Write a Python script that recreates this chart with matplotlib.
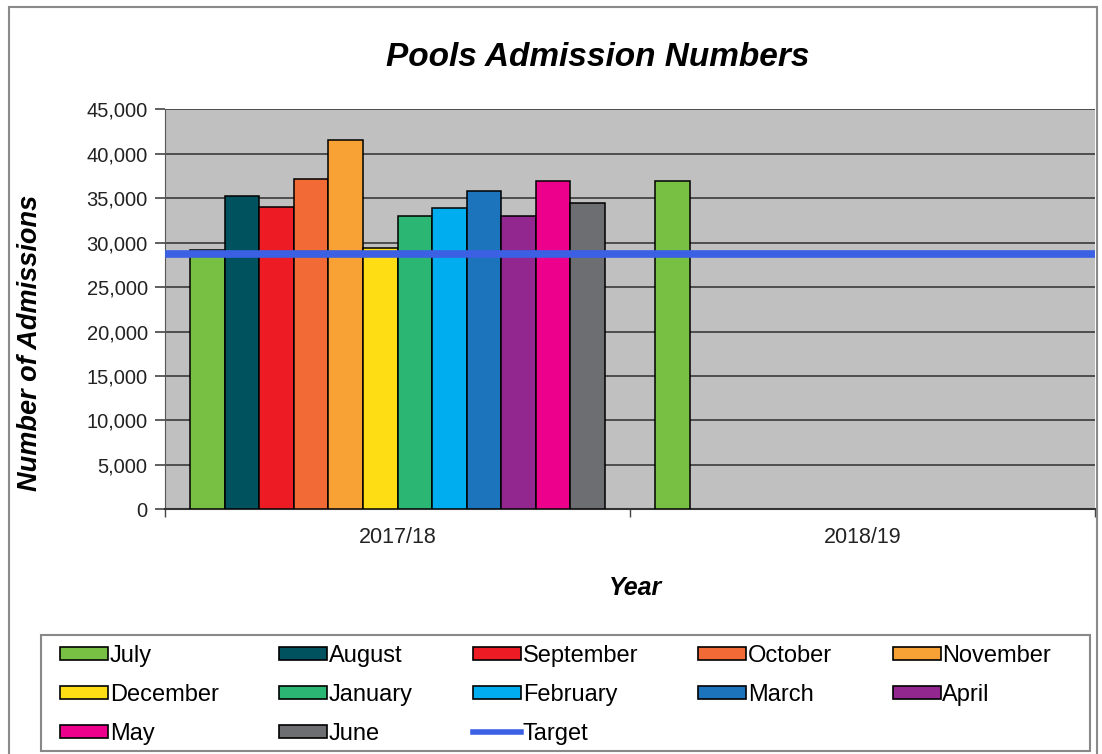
import numpy as np
import matplotlib
matplotlib.use("Agg")
import matplotlib.pyplot as plt
from matplotlib.patches import Patch, Rectangle
from matplotlib.lines import Line2D
from matplotlib.ticker import StrMethodFormatter, FixedLocator

plt.rcParams['font.family'] = ['Liberation Sans', 'DejaVu Sans']

years = ["2017/18", "2018/19"]
months = ["July", "August", "September", "October", "November", "December",
          "January", "February", "March", "April", "May", "June"]
admissions_1718 = [29200, 35300, 34000, 37200, 41500, 29400,
                   33000, 33900, 35800, 33000, 36900, 34500]
admissions_1819 = [36900] + [np.nan] * 11
target = 28750

colors = ["#77c043", "#01525f", "#ed1c24", "#f26a36", "#f8a134", "#ffdd15",
          "#2bb673", "#00aeef", "#1c75bc", "#92278f", "#ec008c", "#6d6e71"]
target_color = "#3b60e4"

fig = plt.figure(figsize=(11.02, 7.54), dpi=100)
ax = fig.add_axes([165 / 1102, 1 - 509.3 / 754, 930 / 1102, 400 / 754])
ax.set_facecolor("#c0c0c0")

x = np.arange(len(years))
w = 0.0742
for i, m in enumerate(months):
    vals = [admissions_1718[i], admissions_1819[i]]
    ax.bar(x + (i - 5.5) * w, vals, width=w, color=colors[i],
           edgecolor="black", linewidth=1.1, zorder=3, label=m)

ax.axhline(target, color=target_color, linewidth=5.5, zorder=4)

ax.set_xlim(-0.5, 1.5)
ax.set_ylim(0, 45000)
ax.set_yticks(range(0, 45001, 5000))
ax.yaxis.set_major_formatter(StrMethodFormatter("{x:,.0f}"))
ax.grid(axis="y", color="#3a3a3a", linewidth=1.2, zorder=1)
ax.set_axisbelow(True)

ax.set_xticks(x)
ax.set_xticklabels(years)
ax.xaxis.set_minor_locator(FixedLocator([-0.5, 0.5, 1.5]))
ax.tick_params(axis="x", which="major", length=0, pad=13, labelsize=15.5,
               colors="#222222")
ax.tick_params(axis="x", which="minor", length=6, width=1, color="#444444")
ax.tick_params(axis="y", length=7, width=1.2, pad=5.5, labelsize=14.5,
               colors="#222222", color="#444444")

for s in ["top", "right"]:
    ax.spines[s].set_visible(False)
ax.spines["left"].set_color("#555555")
ax.spines["bottom"].set_color("#333333")
ax.spines["bottom"].set_linewidth(1.5)

ax.set_ylabel("Number of Admissions", fontsize=19.5, fontweight="bold",
              fontstyle="italic", va="center")
ax.yaxis.set_label_coords((30 - 165) / 930, (509.3 - 343) / 400)
ax.set_xlabel("Year", fontsize=18, fontweight="bold", fontstyle="italic",
              va="center")
ax.xaxis.set_label_coords((636 - 165) / 930, (509.3 - 588) / 400)

fig.text(598 / 1102, 1 - 58 / 754, "Pools Admission Numbers", fontsize=24,
         fontweight="bold", fontstyle="italic", ha="center", va="center")

# legend filled row-wise like the original, with two empty slots
blank = Patch(facecolor="none", edgecolor="none")
hmap = {m: Patch(facecolor=c, edgecolor="black", linewidth=1.2)
        for m, c in zip(months, colors)}
tline = Line2D([], [], color=target_color, linewidth=4)
order = [("July", hmap["July"]), ("December", hmap["December"]), ("May", hmap["May"]),
         ("August", hmap["August"]), ("January", hmap["January"]), ("June", hmap["June"]),
         ("September", hmap["September"]), ("February", hmap["February"]), ("Target", tline),
         ("October", hmap["October"]), ("March", hmap["March"]), ("", blank),
         ("November", hmap["November"]), ("April", hmap["April"]), ("", blank)]
leg = fig.legend([h for _, h in order], [l for l, _ in order], ncol=5,
                 loc="upper left", bbox_to_anchor=(60 / 1102, 1 - 645 / 754),
                 fontsize=17, frameon=False, handlelength=2.03,
                 handleheight=0.5, handletextpad=0.08, labelspacing=0.72,
                 columnspacing=2.55, borderaxespad=0, borderpad=0)

# legend frame
fig.patches.append(Rectangle((41 / 1102, 1 - 751 / 754), 1049 / 1102, 116 / 754,
                             transform=fig.transFigure, fill=False,
                             edgecolor="#888888", linewidth=1.5))

# outer chart border
fig.patches.append(Rectangle((9 / 1102, -0.02), 1088 / 1102, 1.02 - 7 / 754,
                             transform=fig.transFigure, fill=False,
                             edgecolor="#8a8a8a", linewidth=1.5))

fig.savefig("out.png", dpi=100)
